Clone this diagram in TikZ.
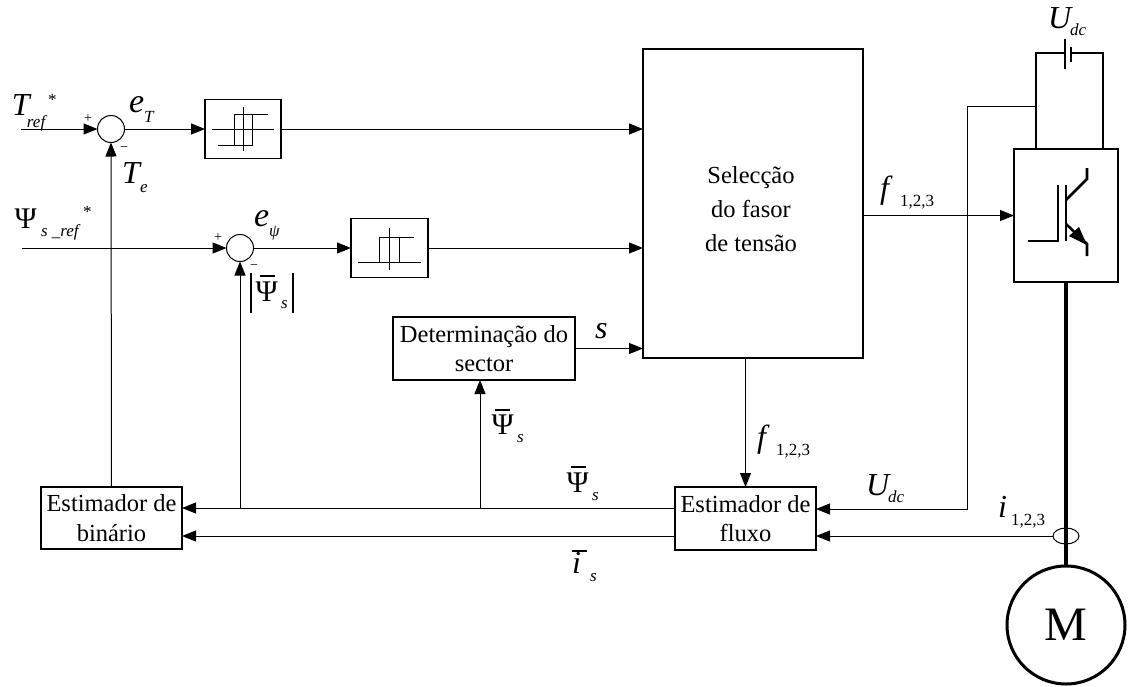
\documentclass[tikz,border=0pt]{standalone}
\usepackage{fontspec}
\setmainfont{Liberation Serif}
\usetikzlibrary{arrows.meta,calc,shapes.geometric}
\tikzset{
  x=1pt,y=-1pt,
  box/.style={draw,line width=1.7pt,inner sep=0pt,outer sep=0pt,align=center,font=\fontsize{24.5}{29.5}\selectfont},
  sumc/.style={draw,circle,line width=1pt,minimum size=27pt,inner sep=0pt,outer sep=0pt},
  sig/.style={line width=1pt,-{Triangle[length=14pt,width=11pt]}},
  power/.style={line width=2.6pt,line join=miter},
  hyst/.style={line width=0.9pt},
  barline/.style={line width=1.6pt},
  lab/.style={anchor=base west,inner sep=0pt,outer sep=0pt},
  big/.style={lab,font=\fontsize{32}{32}\selectfont\itshape},
  ee/.style={lab,font=\fontsize{34}{34}\selectfont\itshape},
  bigup/.style={lab,font=\fontsize{30}{30}\selectfont},
  small/.style={lab,font=\fontsize{17}{17}\selectfont\itshape},
  smallup/.style={lab,font=\fontsize{17}{17}\selectfont},
  tiny/.style={lab,font=\fontsize{14}{14}\selectfont},
}
\begin{document}
\begin{tikzpicture}
\useasboundingbox (0,0) rectangle (1128,686);
% blocks
\node[sumc] (s1) at (111,129) {};
\node[sumc] (s2) at (240,248) {};
\node[box,minimum width=76pt,minimum height=59pt] (h1) at (243,129) {};
\node[box,minimum width=77pt,minimum height=59pt] (h2) at (389.5,248) {};
\node[box,minimum width=220pt,minimum height=309pt] (sel) at (753,203.5) {};
\node[lab,anchor=center,align=center,font=\fontsize{24.5}{34}\selectfont] (seltxt) at (751,209) {Selecção\\do fasor\\de tensão};
\node[box,minimum width=182pt,minimum height=63pt] (det) at (484,348.5) {Determinação do\\sector};
\node[box,minimum width=141pt,minimum height=62pt] (eb) at (111.5,518) {Estimador de\\binário};
\node[box,minimum width=141pt,minimum height=63pt] (ef) at (745.5,518.5) {Estimador de\\fluxo};
\node[box,minimum width=104pt,minimum height=133pt] (inv) at (1066,215.5) {};
\node[draw,circle,line width=3pt,minimum size=118pt,inner sep=0pt,outer sep=0pt,font=\fontsize{48}{48}\selectfont] (mot) at (1066,625) {M};
\node[draw,ellipse,line width=1pt,minimum width=26pt,minimum height=16pt,inner sep=0pt,outer sep=0pt] (ell) at (1066,536) {};
% free ends
\coordinate (in1) at (21,129);
\coordinate (in2) at (22,248);
\coordinate (jA) at (240,508);
\coordinate (jB) at (480,508);
\coordinate (tap) at (1036,106);
\coordinate (udc) at (816,509);
% signals
\draw[sig] (in1) -- (s1.west);
\draw[sig] (s1.east) -- (h1.west);
\draw[sig] (h1.east) -- (h1.east -| sel.west);
\draw[sig] (in2) -- (s2.west);
\draw[sig] (s2.east) -- (h2.west);
\draw[sig] (h2.east) -- (h2.east -| sel.west);
\draw[sig] (det.east) -- (det.east -| sel.west);
\draw[sig] (sel.south -| ef.north) -- (ef.north);
\draw[sig] (sel.east |- inv.west) -- (inv.west);
\draw[sig] (eb.north) -- (s1.south);
\draw[sig] (jA) -- (s2.south);
\draw[sig] (jB) -- (jB |- det.south);
\draw[sig] (ef.west |- jA) -- (eb.east |- jA);
\draw[sig] (ef.west |- ell.west) -- (eb.east |- ell.west);
\draw[sig] (ell.west) -- (ef.east |- ell.west);
\draw[sig] (tap) -- (967,106) -- (967,509) -- (udc);
% power
\coordinate (b1) at (1065,53);
\coordinate (b2) at (1071,53);
\draw[power] (1036,149) -- (1036,53) -- (b1);
\draw[power] (b2) -- (1103,53) -- (1103,149);
\draw[power] (1065,39) -- (1065,69);
\draw[power] (1071,47) -- (1071,62);
\draw[line width=4.5pt] (inv.south) -- (mot.north);
% IGBT
\draw[power] (1028,241) -- (1058,241) -- (1058,185);
\draw[power] (1066,185) -- (1066,241);
\draw[power] (1066,200) -- (1087,179) -- (1087,168);
\draw[power] (1066,224) -- (1087,244) -- (1087,256);
\fill (1087,245) -- (1069,236) -- (1079,227) -- cycle;
% hysteresis 1
\draw[hyst] (212,129) -- (274,129);
\draw[hyst] (243,107) -- (243,151);
\draw[hyst] (218,145) -- (252,145) -- (252,114) -- (268,114);
\draw[hyst] (234,145) -- (234,114) -- (252,114);
% hysteresis 2
\draw[hyst] (358,262) -- (421,262);
\draw[hyst] (389,228) -- (389,270);
\draw[hyst] (379,262) -- (379,237) -- (414,237);
\draw[hyst] (399,237) -- (399,262);
% labels
\node[big] (l1) at (12,115) {T};
\node[small] (l2) at (27,127) {ref};
\node[smallup] (l3) at (48,105) {*};
\node[tiny] (l4) at (84,122) {+};
\node[tiny] (l5) at (120,151.5) {−};
\node[ee] (l6) at (129,112) {e};
\node[small] (l7) at (144,122) {T};
\node[big] (l8) at (122,183) {T};
\node[small] (l9) at (140,192) {e};
\node[bigup] (l10) at (14.5,228) {Ψ};
\node[small] (l11) at (41,236) {s \_ref};
\node[smallup] (l12) at (83,217) {*};
\node[tiny] (l13) at (214,241) {+};
\node[tiny] (l14) at (250,269.5) {−};
\node[ee] (l15) at (254,226) {e};
\node[small] (l16) at (269,236) {ψ};
\node[bigup] (l17) at (255.5,301) {Ψ};
\node[small] (l18) at (281,308) {s};
\draw[line width=1.2pt] (251,273) -- (251,313);
\draw[line width=1.2pt] (293,273) -- (293,313);
\draw[barline] (260,276) -- (275,276);
\node[big] (l19) at (595,338) {s};
\node[bigup] (l20) at (491.5,434) {Ψ};
\node[small] (l21) at (517,442) {s};
\draw[barline] (495,410) -- (510,410);
\node[bigup] (l22) at (566.5,492) {Ψ};
\node[small] (l23) at (592,500) {s};
\draw[barline] (571,467) -- (586,467);
\node[big] (l24) at (880,198) {f};
\node[smallup] (l25) at (900,206) {1,2,3};
\node[big] (l26) at (757,447) {f};
\node[smallup] (l27) at (776,455) {1,2,3};
\node[big] (l28) at (866,495) {U};
\node[small] (l29) at (888,502) {dc};
\node[big] (l30) at (998,517) {i};
\node[smallup] (l31) at (1011,525) {1,2,3};
\node[big] (l32) at (1048,28) {U};
\node[small] (l33) at (1070,35) {dc};
\node[big] (l34) at (572,573) {i};
\node[small] (l35) at (590,581) {s};
\draw[barline] (572,551) -- (587,551);
\end{tikzpicture}
\end{document}
